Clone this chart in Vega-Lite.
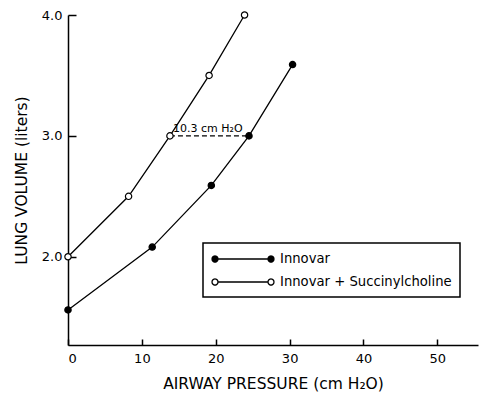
{
  "$schema": "https://vega.github.io/schema/vega-lite/v6.json",
  "width": 410,
  "height": 330,
  "autosize": {"type": "none"},
  "padding": {"left": 68, "top": 15, "right": 4, "bottom": 50},
  "background": "white",
  "config": {
    "view": {"stroke": null},
    "font": "DejaVu Sans",
    "axis": {
      "domainColor": "black", "domainWidth": 1.5, "tickColor": "black", "tickWidth": 1.5,
      "labelColor": "black", "titleColor": "black", "labelFont": "DejaVu Sans", "titleFont": "DejaVu Sans",
      "labelFontSize": 13, "titleFontSize": 15.5, "titleFontWeight": "normal", "grid": false
    },
    "legend": {
      "strokeColor": "black", "strokeWidth": 1.5, "padding": 8, "labelFontSize": 13.2,
      "labelColor": "black", "labelFont": "DejaVu Sans", "labelLimit": 400
    }
  },
  "datasets": {
    "curves": [
      {"pressure": 0, "volume": 1.56, "series": "Innovar"},
      {"pressure": 11.4, "volume": 2.08, "series": "Innovar"},
      {"pressure": 19.4, "volume": 2.59, "series": "Innovar"},
      {"pressure": 24.5, "volume": 3.0, "series": "Innovar"},
      {"pressure": 30.4, "volume": 3.59, "series": "Innovar"},
      {"pressure": 0, "volume": 2.0, "series": "Innovar + Succinylcholine"},
      {"pressure": 8.2, "volume": 2.5, "series": "Innovar + Succinylcholine"},
      {"pressure": 13.8, "volume": 3.0, "series": "Innovar + Succinylcholine"},
      {"pressure": 19.1, "volume": 3.5, "series": "Innovar + Succinylcholine"},
      {"pressure": 23.9, "volume": 4.0, "series": "Innovar + Succinylcholine"}
    ],
    "gap": [
      {"from": 13.8, "to": 24.5, "volume": 3.0, "label": "10.3 cm H₂O"}
    ]
  },
  "layer": [
    {
      "data": {"name": "curves"},
      "mark": {"type": "line", "color": "black", "strokeWidth": 1.3},
      "encoding": {
        "x": {"field": "pressure", "type": "quantitative", "scale": {"domain": [0, 55.5], "nice": false, "zero": false},
              "axis": {"values": [0, 10, 20, 30, 40, 50], "tickSize": -6, "labelPadding": 13, "title": "AIRWAY PRESSURE (cm H₂O)", "titlePadding": 11}},
        "y": {"field": "volume", "type": "quantitative", "scale": {"domain": [1.27, 4.0], "nice": false, "zero": false},
              "axis": {"values": [2, 3, 4], "format": ".1f", "tickSize": -8, "labelPadding": 14, "title": "LUNG VOLUME (liters)", "titlePadding": 12}},
        "detail": {"field": "series", "type": "nominal"}
      }
    },
    {
      "data": {"name": "gap"},
      "mark": {"type": "rule", "color": "black", "strokeWidth": 1.3, "strokeDash": [5, 3]},
      "encoding": {
        "x": {"field": "from", "type": "quantitative"},
        "x2": {"field": "to"},
        "y": {"field": "volume", "type": "quantitative"}
      }
    },
    {
      "data": {"name": "gap"},
      "mark": {"type": "text", "align": "left", "baseline": "bottom", "dx": 3, "dy": -2, "fontSize": 11, "color": "black"},
      "encoding": {
        "x": {"field": "from", "type": "quantitative"},
        "y": {"field": "volume", "type": "quantitative"},
        "text": {"field": "label"}
      }
    },
    {
      "data": {"name": "curves"},
      "mark": {"type": "point", "filled": true, "stroke": "black", "strokeWidth": 1.2, "size": 40, "opacity": 1},
      "encoding": {
        "x": {"field": "pressure", "type": "quantitative"},
        "y": {"field": "volume", "type": "quantitative"},
        "fill": {"field": "series", "type": "nominal",
                 "scale": {"domain": ["Innovar", "Innovar + Succinylcholine"], "range": ["black", "white"]},
                 "legend": {"title": null, "orient": "none", "legendX": 135, "legendY": 228,
                            "symbolType": "M-0.143,0L7,0M-0.143,0a0.4286,0.4286 0 1,0 -0.857,0a0.4286,0.4286 0 1,0 0.857,0M7.857,0a0.4286,0.4286 0 1,0 -0.857,0a0.4286,0.4286 0 1,0 0.857,0",
                            "symbolSize": 196, "symbolStrokeColor": "black", "symbolStrokeWidth": 1.3,
                            "symbolOpacity": 1, "rowPadding": 8, "labelOffset": 53}}
      }
    }
  ]
}
